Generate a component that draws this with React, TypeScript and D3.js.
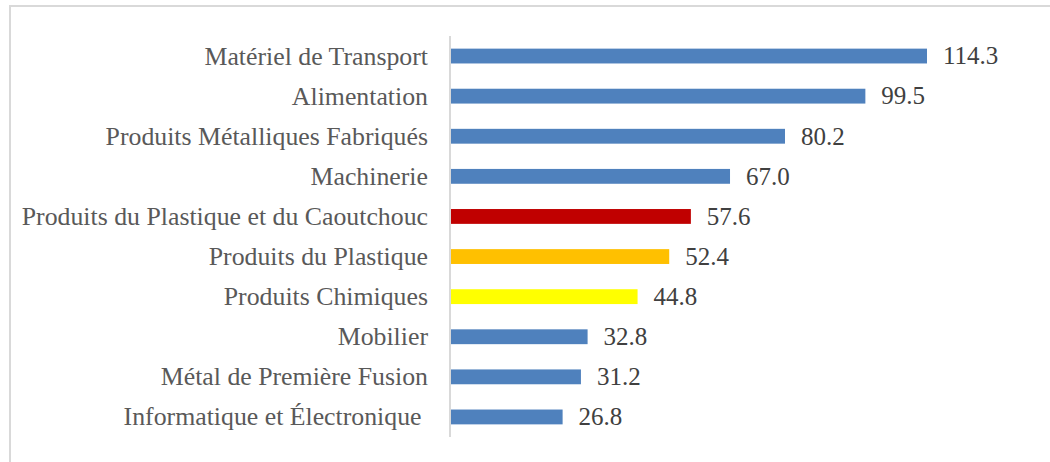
import React from "react";
import * as d3 from "d3";

const categories = [
  "Matériel de Transport",
  "Alimentation",
  "Produits Métalliques Fabriqués",
  "Machinerie",
  "Produits du Plastique et du Caoutchouc",
  "Produits du Plastique",
  "Produits Chimiques",
  "Mobilier",
  "Métal de Première Fusion",
  "Informatique et Électronique ",
];
const values = [114.3, 99.5, 80.2, 67.0, 57.6, 52.4, 44.8, 32.8, 31.2, 26.8];
const barColors = [
  "#4f81bd", "#4f81bd", "#4f81bd", "#4f81bd", "#c00000",
  "#ffc000", "#ffff00", "#4f81bd", "#4f81bd", "#4f81bd",
];

const W = 1050;
const H = 462;

export default function App() {
  const x = d3.scaleLinear().domain([0, 114.3]).range([451, 927]);
  const y = d3.scaleBand<string>().domain(categories).range([36, 437]).paddingInner(0.63).paddingOuter(0.315);
  const font = "'Liberation Serif', 'Times New Roman', serif";
  return (
    <div style={{ position: "absolute", left: 0, top: 0 }}>
      <svg width={W} height={H} style={{ display: "block" }}>
        <rect x={0} y={0} width={W} height={H} fill="#ffffff" />
        <line x1={10} x2={W} y1={6} y2={6} stroke="#d9d9d9" strokeWidth={2} />
        <line x1={10} x2={10} y1={5} y2={H} stroke="#d9d9d9" strokeWidth={2} />
        {categories.map((c, i) => {
          const yc = (y(c) as number) + y.bandwidth() / 2;
          return (
            <g key={c}>
              <rect x={x(0)} y={y(c)} width={x(values[i]) - x(0)} height={y.bandwidth()} fill={barColors[i]} />
              <text x={428} y={yc} dy="0.33em" textAnchor="end" fontFamily={font} fontSize={25.8} fill="#595959" style={{ whiteSpace: "pre" }}>
                {c}
              </text>
              <text x={x(values[i]) + 16} y={yc} dy="0.33em" fontFamily={font} fontSize={25} fill="#404040">
                {values[i].toFixed(1)}
              </text>
            </g>
          );
        })}
        <line x1={450} x2={450} y1={36} y2={437} stroke="#d9d9d9" strokeWidth={2} />
      </svg>
    </div>
  );
}
